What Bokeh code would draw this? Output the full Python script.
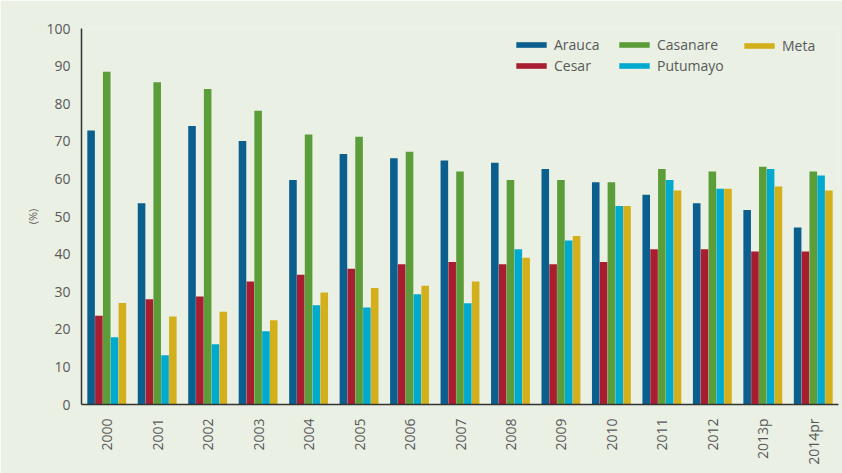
import math
import numpy as np
from bokeh.plotting import figure
from bokeh.models import Range1d, FixedTicker, Legend, LegendItem
from bokeh.embed import file_html
from bokeh.resources import INLINE

years = ["2000", "2001", "2002", "2003", "2004", "2005", "2006", "2007",
         "2008", "2009", "2010", "2011", "2012", "2013p", "2014pr"]
arauca   = [72.9, 53.5, 74.1, 70.1, 59.7, 66.6, 65.5, 64.9, 64.3, 62.6, 59.1, 55.8, 53.5, 51.7, 47.1]
cesar    = [23.6, 28.0, 28.7, 32.7, 34.5, 36.1, 37.3, 37.9, 37.3, 37.3, 37.9, 41.3, 41.3, 40.7, 40.7]
casanare = [88.5, 85.7, 83.9, 78.1, 71.8, 71.2, 67.2, 62.0, 59.7, 59.7, 59.1, 62.6, 62.0, 63.2, 62.0]
putumayo = [17.9, 13.1, 16.0, 19.5, 26.4, 25.8, 29.3, 26.9, 41.3, 43.6, 52.8, 59.7, 57.4, 62.6, 60.9]
meta     = [27.0, 23.4, 24.7, 22.4, 29.8, 31.0, 31.6, 32.7, 39.0, 44.8, 52.8, 56.9, 57.4, 58.0, 56.9]
series_names = ["Arauca", "Cesar", "Casanare", "Putumayo", "Meta"]
series_vals = [arauca, cesar, casanare, putumayo, meta]
colors = ["#0A5F8E", "#A81D30", "#5B9E39", "#00AACF", "#D3B01B"]
y_ticks = [0, 10, 20, 30, 40, 50, 60, 70, 80, 90, 100]

BG = "#EAF0E3"
TXT = "#58595B"
FONT = "Open Sans"

p = figure(width=842, height=473, output_backend="svg", toolbar_location=None,
           x_range=Range1d(0, 15), y_range=Range1d(0, 100),
           min_border_left=81, min_border_right=4, min_border_top=28, min_border_bottom=69)
p.background_fill_color = BG
p.border_fill_color = BG
p.outline_line_color = None
p.grid.visible = False

centers = np.arange(len(years)) + 0.5
bw = 0.155
items = []
for k, (name, vals, c) in enumerate(zip(series_names, series_vals, colors)):
    xs = centers + (k - 2) * bw
    r = p.vbar(x=xs, top=vals, width=bw * 0.97, bottom=0, fill_color=c, line_color=None)
    items.append(LegendItem(label=name, renderers=[r]))

# legend laid out in three columns: (Arauca, Cesar), (Casanare, Putumayo), (Meta)
columns = [([items[0], items[1]], (431, 329)),
           ([items[2], items[3]], (534, 329)),
           ([items[4]], (659, 349))]
for col_items, loc in columns:
    lg = Legend(items=col_items, orientation="vertical",
                location=loc, padding=0, margin=0, spacing=2,
                glyph_width=38, glyph_height=7, label_height=18,
                label_standoff=4, label_text_font=FONT, label_text_font_size="14px",
                label_text_color=TXT, border_line_color=None,
                background_fill_alpha=0)
    p.add_layout(lg, "center")

# axes
p.xaxis.ticker = FixedTicker(ticks=list(centers))
p.xaxis.major_label_overrides = {float(c): lab for c, lab in zip(centers, years)}
p.xaxis.major_label_orientation = math.pi / 2
p.yaxis.ticker = FixedTicker(ticks=y_ticks)
for ax in (p.xaxis, p.yaxis):
    ax.axis_line_color = "#333333"
    ax.axis_line_width = 1.5
    ax.major_tick_line_color = None
    ax.minor_tick_line_color = None
    ax.major_label_text_font = FONT
    ax.major_label_text_font_size = "14px"
    ax.major_label_text_color = TXT
p.xaxis.major_label_standoff = 8
p.yaxis.major_label_standoff = 5
p.yaxis.axis_label = "(%)"
p.yaxis.axis_label_text_font = FONT
p.yaxis.axis_label_text_font_size = "11px"
p.yaxis.axis_label_text_font_style = "normal"
p.yaxis.axis_label_text_color = TXT
p.yaxis.axis_label_standoff = 3

open("out.html", "w").write(file_html(p, INLINE))
